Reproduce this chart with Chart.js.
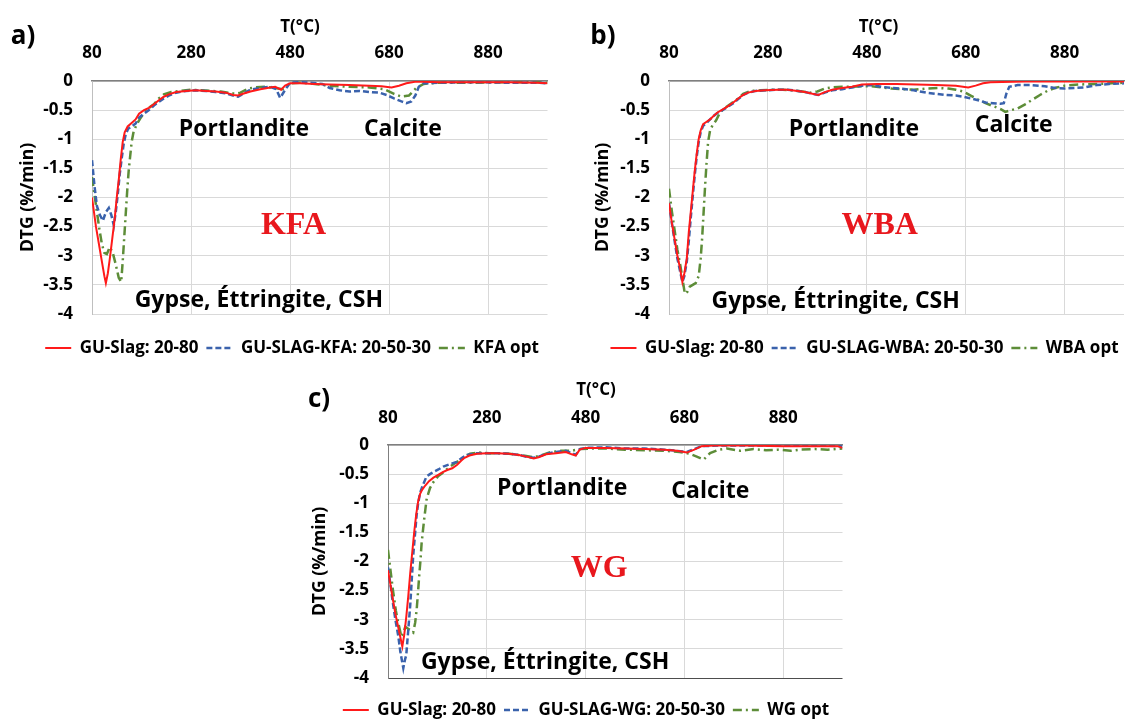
<!DOCTYPE html>
<html>
<head>
<meta charset="utf-8">
<script src="https://cdn.jsdelivr.net/npm/chart.js@4.4.1/dist/chart.umd.min.js"></script>
<style>
html,body{margin:0;padding:0;background:#ffffff;}
body{width:1126px;height:720px;position:relative;overflow:hidden;}
canvas{position:absolute;display:block;}
</style>
</head>
<body>
<canvas id="ca" width="560" height="370" style="left:0px;top:0px"></canvas>
<canvas id="cb" width="556" height="370" style="left:570px;top:0px"></canvas>
<canvas id="cc" width="560" height="350" style="left:290px;top:370px"></canvas>
<script>
// ---------------- DATA ----------------
const xTickValues = [80, 280, 480, 680, 880];
const yTickValues = [0, -0.5, -1, -1.5, -2, -2.5, -3, -3.5, -4];

const namesA = ['GU-Slag: 20-80', 'GU-SLAG-KFA: 20-50-30', 'KFA opt'];
const namesB = ['GU-Slag: 20-80', 'GU-SLAG-WBA: 20-50-30', 'WBA opt'];
const namesC = ['GU-Slag: 20-80', 'GU-SLAG-WG: 20-50-30', 'WG opt'];

// Panel a (KFA)
const aRedT = [80,88,95,100,105,108,112,116,121,126,130,134,138,142,146,152,160,168,175,185,195,205,215,225,235,250,270,290,310,330,350,365,375,385,400,420,440,450,462,470,480,500,530,560,600,640,665,685,700,715,735,780,850,920,980,1000];
const aRedV = [-2.0,-2.5,-2.85,-3.1,-3.35,-3.47,-3.3,-3.05,-2.7,-2.35,-2.0,-1.7,-1.35,-1.05,-0.88,-0.78,-0.72,-0.66,-0.56,-0.5,-0.46,-0.4,-0.33,-0.27,-0.23,-0.19,-0.17,-0.16,-0.17,-0.18,-0.2,-0.24,-0.25,-0.22,-0.18,-0.14,-0.11,-0.1,-0.15,-0.08,-0.04,-0.04,-0.05,-0.06,-0.07,-0.08,-0.09,-0.11,-0.08,-0.04,-0.01,-0.02,-0.02,-0.02,-0.03,-0.04];
const aBlueT = [80,85,90,96,102,108,114,119,124,128,132,136,140,144,148,153,160,168,175,185,195,205,215,225,235,250,270,290,310,330,350,365,375,385,400,420,440,452,460,468,480,500,520,545,560,580,600,620,640,660,675,690,705,715,725,733,740,750,780,850,920,980,1000];
const aBlueV = [-1.36,-1.8,-2.15,-2.3,-2.4,-2.25,-2.18,-2.3,-2.48,-2.25,-1.95,-1.6,-1.33,-1.08,-0.92,-0.82,-0.78,-0.73,-0.63,-0.56,-0.5,-0.42,-0.36,-0.3,-0.25,-0.2,-0.17,-0.16,-0.17,-0.19,-0.21,-0.25,-0.27,-0.22,-0.15,-0.12,-0.1,-0.14,-0.29,-0.18,-0.03,-0.02,-0.03,-0.05,-0.12,-0.16,-0.18,-0.17,-0.19,-0.2,-0.24,-0.3,-0.35,-0.38,-0.35,-0.25,-0.1,-0.04,-0.03,-0.02,-0.03,-0.03,-0.04];
const aGreenT = [80,85,90,95,100,105,110,116,122,128,134,139,142,145,148,151,154,157,160,164,170,177,185,195,205,215,225,240,260,280,300,320,340,355,370,380,395,410,430,450,465,480,500,530,560,600,640,670,690,705,720,735,750,780,850,920,980,1000];
const aGreenV = [-1.65,-1.95,-2.25,-2.55,-2.8,-2.95,-2.97,-2.85,-2.95,-3.15,-3.38,-3.45,-3.1,-2.7,-2.3,-1.9,-1.55,-1.3,-1.05,-0.87,-0.75,-0.65,-0.55,-0.46,-0.4,-0.3,-0.23,-0.19,-0.17,-0.15,-0.16,-0.17,-0.18,-0.2,-0.22,-0.2,-0.13,-0.11,-0.1,-0.12,-0.14,-0.04,-0.03,-0.05,-0.08,-0.1,-0.11,-0.14,-0.22,-0.27,-0.25,-0.12,-0.05,-0.03,-0.03,-0.02,-0.02,-0.03];

// Panel b (WBA)
const bRedT = [80,86,92,97,102,107,111,116,120,124,128,132,136,140,144,149,156,163,170,178,188,198,210,220,230,240,255,275,300,320,340,355,370,382,395,410,430,450,470,500,540,580,620,660,685,700,715,730,800,880,950,1000];
const bRedV = [-2.1,-2.45,-2.75,-3.0,-3.2,-3.45,-3.3,-3.05,-2.6,-2.25,-1.9,-1.55,-1.25,-1.0,-0.85,-0.74,-0.7,-0.66,-0.6,-0.54,-0.49,-0.44,-0.37,-0.3,-0.24,-0.2,-0.17,-0.16,-0.15,-0.15,-0.17,-0.19,-0.22,-0.24,-0.19,-0.15,-0.12,-0.1,-0.06,-0.05,-0.05,-0.06,-0.07,-0.08,-0.11,-0.08,-0.04,-0.02,-0.01,-0.01,-0.01,-0.01];
const bBlueT = [80,86,92,97,102,107,111,116,120,124,128,132,136,140,144,149,156,163,170,178,188,198,210,220,230,240,255,275,300,320,340,355,370,382,395,410,430,450,470,490,510,530,550,575,600,620,640,660,675,690,705,720,735,750,757,762,768,785,810,840,860,880,900,920,945,970,1000];
const bBlueV = [-2.1,-2.45,-2.78,-3.05,-3.25,-3.45,-3.35,-3.1,-2.75,-2.35,-1.98,-1.62,-1.3,-1.05,-0.88,-0.77,-0.72,-0.66,-0.6,-0.55,-0.5,-0.45,-0.38,-0.31,-0.24,-0.2,-0.17,-0.16,-0.15,-0.15,-0.17,-0.19,-0.22,-0.24,-0.2,-0.16,-0.14,-0.11,-0.08,-0.07,-0.1,-0.12,-0.13,-0.16,-0.2,-0.22,-0.24,-0.25,-0.27,-0.3,-0.33,-0.37,-0.38,-0.39,-0.38,-0.22,-0.1,-0.07,-0.07,-0.09,-0.12,-0.13,-0.12,-0.11,-0.07,-0.05,-0.04];
const bGreenT = [80,86,92,97,102,107,112,117,122,128,134,140,144,147,150,153,156,159,163,168,175,182,190,200,210,220,230,245,265,290,310,330,350,365,380,395,410,430,450,470,490,510,530,555,575,600,625,645,660,675,690,705,720,735,750,760,772,785,800,815,830,845,860,880,910,945,975,1000];
const bGreenV = [-1.85,-2.25,-2.6,-2.9,-3.12,-3.38,-3.65,-3.62,-3.53,-3.5,-3.47,-3.35,-3.05,-2.7,-2.25,-1.8,-1.4,-1.05,-0.85,-0.76,-0.68,-0.56,-0.48,-0.42,-0.36,-0.3,-0.22,-0.17,-0.16,-0.15,-0.15,-0.16,-0.18,-0.2,-0.18,-0.13,-0.11,-0.1,-0.1,-0.09,-0.09,-0.11,-0.13,-0.14,-0.15,-0.13,-0.12,-0.13,-0.15,-0.18,-0.25,-0.32,-0.38,-0.43,-0.48,-0.53,-0.5,-0.47,-0.4,-0.32,-0.24,-0.17,-0.12,-0.08,-0.06,-0.05,-0.04,-0.03];

// Panel c (WG)
const cRedT = [80,85,90,95,100,105,109,113,117,121,125,129,133,137,141,145,149,155,163,172,180,190,200,210,220,228,235,245,260,280,300,325,345,360,375,385,400,420,440,452,460,468,480,520,560,600,640,665,685,700,715,740,800,880,950,990,1000];
const cRedV = [-2.15,-2.4,-2.66,-2.9,-3.1,-3.3,-3.46,-3.25,-2.95,-2.6,-2.2,-1.85,-1.5,-1.2,-0.97,-0.84,-0.77,-0.7,-0.62,-0.56,-0.52,-0.47,-0.43,-0.4,-0.34,-0.27,-0.22,-0.18,-0.15,-0.14,-0.14,-0.15,-0.17,-0.2,-0.23,-0.21,-0.16,-0.14,-0.12,-0.16,-0.18,-0.08,-0.05,-0.05,-0.06,-0.07,-0.08,-0.1,-0.13,-0.08,-0.02,-0.01,-0.01,-0.02,-0.02,-0.02,-0.05];
const cBlueT = [80,85,90,95,101,105,108,111,114,117,121,125,128,131,135,138,141,145,150,158,165,172,182,192,205,219,230,240,260,280,300,325,345,360,375,385,400,420,440,452,460,468,480,520,560,600,640,665,685,700,715,750,820,900,960,1000];
const cBlueV = [-2.1,-2.4,-2.72,-3.0,-3.29,-3.55,-3.69,-3.83,-3.7,-3.6,-3.18,-2.75,-2.32,-1.9,-1.5,-1.2,-1.0,-0.82,-0.7,-0.54,-0.5,-0.46,-0.42,-0.37,-0.33,-0.29,-0.22,-0.17,-0.14,-0.14,-0.14,-0.15,-0.17,-0.2,-0.22,-0.2,-0.15,-0.12,-0.1,-0.14,-0.17,-0.07,-0.05,-0.04,-0.06,-0.06,-0.08,-0.1,-0.12,-0.07,-0.02,-0.01,-0.01,-0.01,-0.01,-0.02];
const cGreenT = [80,85,90,96,101,107,112,115,120,125,131,135,138,141,143,146,148,151,153,156,158,162,165,170,175,182,189,197,206,216,226,236,246,265,285,305,325,345,360,375,390,410,430,450,470,490,520,560,600,640,670,690,705,719,732,750,766,793,820,845,870,895,915,945,970,1000];
const cGreenV = [-1.8,-2.15,-2.49,-2.85,-3.06,-3.29,-3.2,-3.12,-3.15,-3.18,-3.22,-3.05,-2.83,-2.5,-2.26,-1.95,-1.69,-1.45,-1.29,-1.08,-0.94,-0.82,-0.74,-0.66,-0.6,-0.53,-0.49,-0.43,-0.37,-0.31,-0.26,-0.2,-0.15,-0.13,-0.14,-0.14,-0.15,-0.17,-0.19,-0.21,-0.18,-0.12,-0.1,-0.1,-0.07,-0.06,-0.06,-0.08,-0.09,-0.1,-0.12,-0.15,-0.2,-0.25,-0.14,-0.08,-0.06,-0.1,-0.07,-0.09,-0.08,-0.1,-0.08,-0.07,-0.08,-0.06];

// ---------------- STYLE ----------------
Chart.defaults.font.family = '"Open Sans", "DejaVu Sans", sans-serif';
Chart.defaults.color = '#000000';
const RED = '#ff1a1a', BLUE = '#3a62ac', GREEN = '#5d8d38';
const FONT_B = (s) => ({family: '"Open Sans", "DejaVu Sans", sans-serif', size: s, weight: 'bold'});

const pts = (T, V) => T.map((t, i) => ({x: t, y: V[i]}));

const decoPlugin = {
  id: 'deco',
  beforeLayout(chart) {
    const lg = chart.legend;
    if (lg && !lg._patched) {
      const orig = lg.fit;
      lg.fit = function () { orig.call(this); this._fullH = this.height; this.height = 0; };
      lg._patched = true;
    }
  },
  afterLayout(chart, args, opts) {
    const lg = chart.legend;
    if (!lg || !opts.legendAt) return;
    const dx = opts.legendAt.x - (lg.left + lg.right) / 2;
    lg.left += dx; lg.right += dx;
    lg.top = opts.legendAt.y - opts.legendPad - opts.legendFont / 2;
    lg.bottom = lg.top + (lg._fullH || 40);
    lg.height = lg.bottom - lg.top;
  },
  afterDraw(chart, args, opts) {
    const ctx = chart.ctx;
    ctx.save();
    ctx.textAlign = 'center';
    ctx.textBaseline = 'middle';
    (opts.texts || []).forEach(t => {
      let x = t.x, y = t.y;
      if (t.t !== undefined) {
        x = chart.scales.x.getPixelForValue(t.t);
        y = chart.scales.y.getPixelForValue(t.v);
      }
      ctx.font = t.font;
      ctx.fillStyle = t.color || '#000000';
      ctx.fillText(t.text, x, y);
    });
    ctx.restore();
  }
};

function legendLabels(chart) {
  const items = Chart.defaults.plugins.legend.labels.generateLabels(chart);
  items.forEach(it => {
    const ds = chart.data.datasets[it.datasetIndex];
    it.lineDash = ds.borderDash || [];
    it.lineWidth = ds.borderWidth;
    it.strokeStyle = ds.borderColor;
    it.fillStyle = ds.borderColor;
    it.pointStyle = 'line';
  });
  return items;
}

function makePanel(id, cfg) {
  const datasets = [
    {label: cfg.names[0], data: pts(cfg.red[0], cfg.red[1]), borderColor: RED, backgroundColor: RED, borderWidth: 2, pointRadius: 0, tension: 0, fill: false},
    {label: cfg.names[1], data: pts(cfg.blue[0], cfg.blue[1]), borderColor: BLUE, backgroundColor: BLUE, borderWidth: 2.5, borderDash: [6, 3], pointRadius: 0, tension: 0, fill: false},
    {label: cfg.names[2], data: pts(cfg.green[0], cfg.green[1]), borderColor: GREEN, backgroundColor: GREEN, borderWidth: 2.5, borderDash: [9, 4, 2, 4], pointRadius: 0, tension: 0, fill: false}
  ];
  return new Chart(document.getElementById(id), {
    type: 'line',
    data: {datasets},
    plugins: [decoPlugin],
    options: {
      responsive: false,
      animation: false,
      events: [],
      layout: {padding: cfg.padding},
      scales: {
        x: {
          type: 'linear', position: 'top', min: 80, max: 1000,
          afterBuildTicks: (s) => { s.ticks = xTickValues.map(v => ({value: v})); },
          afterFit: (s) => { s.height = cfg.xHeight; },
          ticks: {font: FONT_B(17), color: '#000', padding: cfg.xTickPad, autoSkip: false, maxRotation: 0, callback: (v) => String(v)},
          grid: {color: '#d9d9d9', lineWidth: 1, drawTicks: false},
          border: {display: true, color: '#7f7f7f', width: 1.5}
        },
        y: {
          type: 'linear', position: 'left', min: -4, max: 0,
          afterBuildTicks: (s) => { s.ticks = yTickValues.map(v => ({value: v})); },
          afterFit: (s) => { s.width = cfg.yWidth; },
          ticks: {font: FONT_B(17), color: '#000', padding: 19, autoSkip: false, callback: (v) => String(v)},
          grid: {color: (c) => (c.tick && c.tick.value === -4) ? cfg.bottomLine : '#d9d9d9', lineWidth: 1, drawTicks: false},
          border: {display: true, color: cfg.leftLine, width: 1},
          title: {display: true, text: 'DTG (%/min)', font: FONT_B(17.5), color: '#000', padding: {top: cfg.yTitlePad, bottom: 0}}
        }
      },
      plugins: {
        legend: {
          display: true, position: 'bottom', align: 'center',
          labels: {usePointStyle: true, pointStyle: 'line', pointStyleWidth: 26, boxHeight: 17, padding: 8, font: FONT_B(17), color: '#000', generateLabels: legendLabels}
        },
        tooltip: {enabled: false},
        deco: {
          legendAt: cfg.legendAt, legendPad: 8, legendFont: 17,
          texts: cfg.texts
        }
      }
    }
  });
}

const annFont = 'bold 23px "Open Sans", "DejaVu Sans", sans-serif';
const tagFont = 'bold 32px "Liberation Serif", "Times New Roman", serif';
const letterFont = 'bold 26px "Open Sans", "DejaVu Sans", sans-serif';
const tFont = 'bold 17px "Open Sans", "DejaVu Sans", sans-serif';

makePanel('ca', {
  names: namesA, red: [aRedT, aRedV], blue: [aBlueT, aBlueV], green: [aGreenT, aGreenV],
  padding: {left: 0, top: 0, right: 12.5, bottom: 56},
  xHeight: 81, xTickPad: 18, yWidth: 92, yTitlePad: 17.2,
  bottomLine: '#d9d9d9', leftLine: '#bfbfbf',
  legendAt: {x: 292, y: 348},
  texts: [
    {text: 'a)', x: 23, y: 37, font: letterFont},
    {text: 'T(°C)', x: 300, y: 27, font: tFont},
    {text: 'Portlandite', t: 387, v: -0.84, font: annFont},
    {text: 'Calcite', t: 708, v: -0.84, font: annFont},
    {text: 'KFA', t: 487, v: -2.49, font: tagFont, color: '#e8171d'},
    {text: 'Gypse, Éttringite, CSH', t: 417, v: -3.77, font: annFont}
  ]
});

makePanel('cb', {
  names: namesB, red: [bRedT, bRedV], blue: [bBlueT, bBlueV], green: [bGreenT, bGreenV],
  padding: {left: 0, top: 0, right: 2, bottom: 56},
  xHeight: 81, xTickPad: 18, yWidth: 99, yTitlePad: 22.5,
  bottomLine: '#d9d9d9', leftLine: '#bfbfbf',
  legendAt: {x: 294.5, y: 348},
  texts: [
    {text: 'b)', x: 33, y: 37, font: letterFont},
    {text: 'T(°C)', x: 308.5, y: 27, font: tFont},
    {text: 'Portlandite', t: 454, v: -0.84, font: annFont},
    {text: 'Calcite', t: 777, v: -0.77, font: annFont},
    {text: 'WBA', t: 506, v: -2.49, font: tagFont, color: '#e8171d'},
    {text: 'Gypse, Éttringite, CSH', t: 417, v: -3.78, font: annFont}
  ]
});

makePanel('cc', {
  names: namesC, red: [cRedT, cRedV], blue: [cBlueT, cBlueV], green: [cGreenT, cGreenV],
  padding: {left: 0, top: 0, right: 7.5, bottom: 42},
  xHeight: 75, xTickPad: 17, yWidth: 98, yTitlePad: 19.5,
  bottomLine: '#4d4d4d', leftLine: '#7f7f7f',
  legendAt: {x: 296, y: 340},
  texts: [
    {text: 'c)', x: 29, y: 30, font: letterFont},
    {text: 'T(°C)', x: 306, y: 20, font: tFont},
    {text: 'Portlandite', t: 432.6, v: -0.74, font: annFont},
    {text: 'Calcite', t: 732.5, v: -0.79, font: annFont},
    {text: 'WG', t: 507.6, v: -2.13, font: tagFont, color: '#e8171d'},
    {text: 'Gypse, Éttringite, CSH', t: 398, v: -3.74, font: annFont}
  ]
});
</script>
</body>
</html>
